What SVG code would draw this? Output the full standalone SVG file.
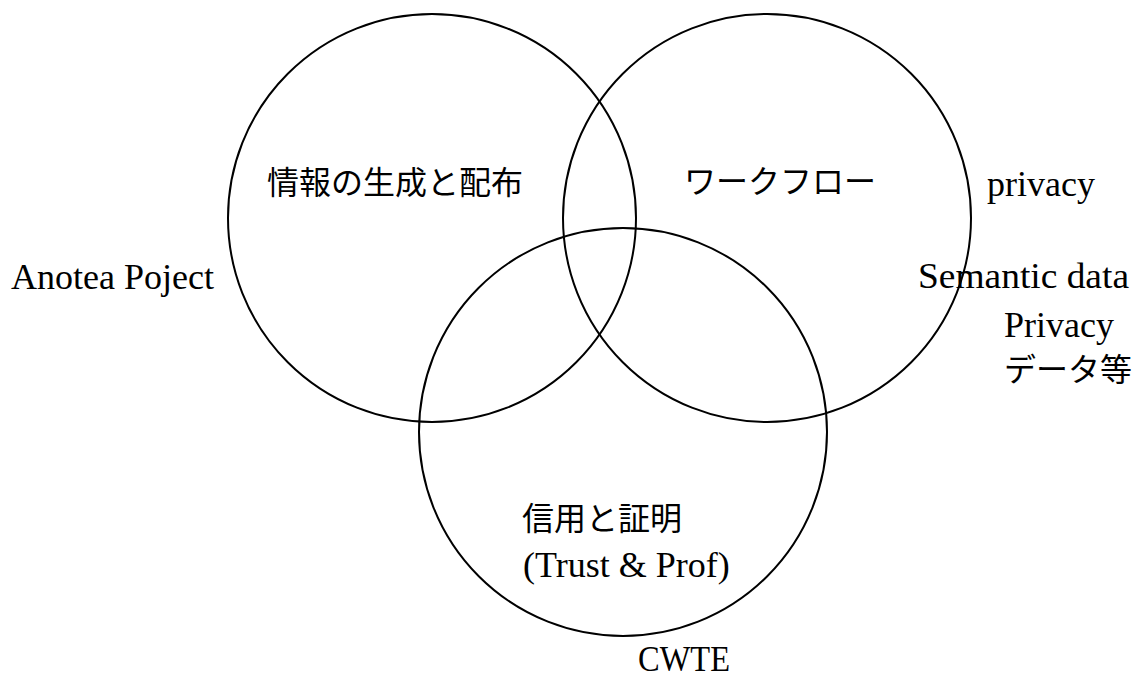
<svg xmlns="http://www.w3.org/2000/svg" width="1138" height="675" viewBox="0 0 1138 675">
<style>
.c{fill:none;stroke:#000;stroke-width:2}
.s{font-family:"Liberation Serif","DejaVu Serif",serif;font-size:36px;fill:#000}
.j{font-family:"Noto Sans CJK JP","Noto Sans",sans-serif;font-size:32px;fill:#000}
</style>
<rect width="1138" height="675" fill="#fff"/>
<g id="circle-info">
<circle class="c" cx="432" cy="218" r="204"/>
<text class="j" x="267" y="194">情報の生成と配布</text>
</g>
<g id="circle-workflow">
<circle class="c" cx="767" cy="218" r="204"/>
<text class="j" x="684" y="193">ワークフロー</text>
</g>
<g id="circle-trust">
<circle class="c" cx="623" cy="432" r="204"/>
<text class="j" x="522" y="530">信用と証明</text>
<text class="s" x="523" y="577">(Trust &amp; Prof)</text>
</g>
<g id="label-anotea"><text class="s" x="11" y="289">Anotea Poject</text></g>
<g id="label-privacy"><text class="s" x="987" y="196">privacy</text></g>
<g id="label-semantic">
<text class="s" x="918" y="288" textLength="211" lengthAdjust="spacingAndGlyphs">Semantic data</text>
<text class="s" x="1004" y="337">Privacy</text>
<text class="j" x="1004" y="381">データ等</text>
</g>
<g id="label-cwte"><text class="s" x="638" y="671" textLength="92" lengthAdjust="spacingAndGlyphs">CWTE</text></g>
<g id="connectors"></g>
</svg>
